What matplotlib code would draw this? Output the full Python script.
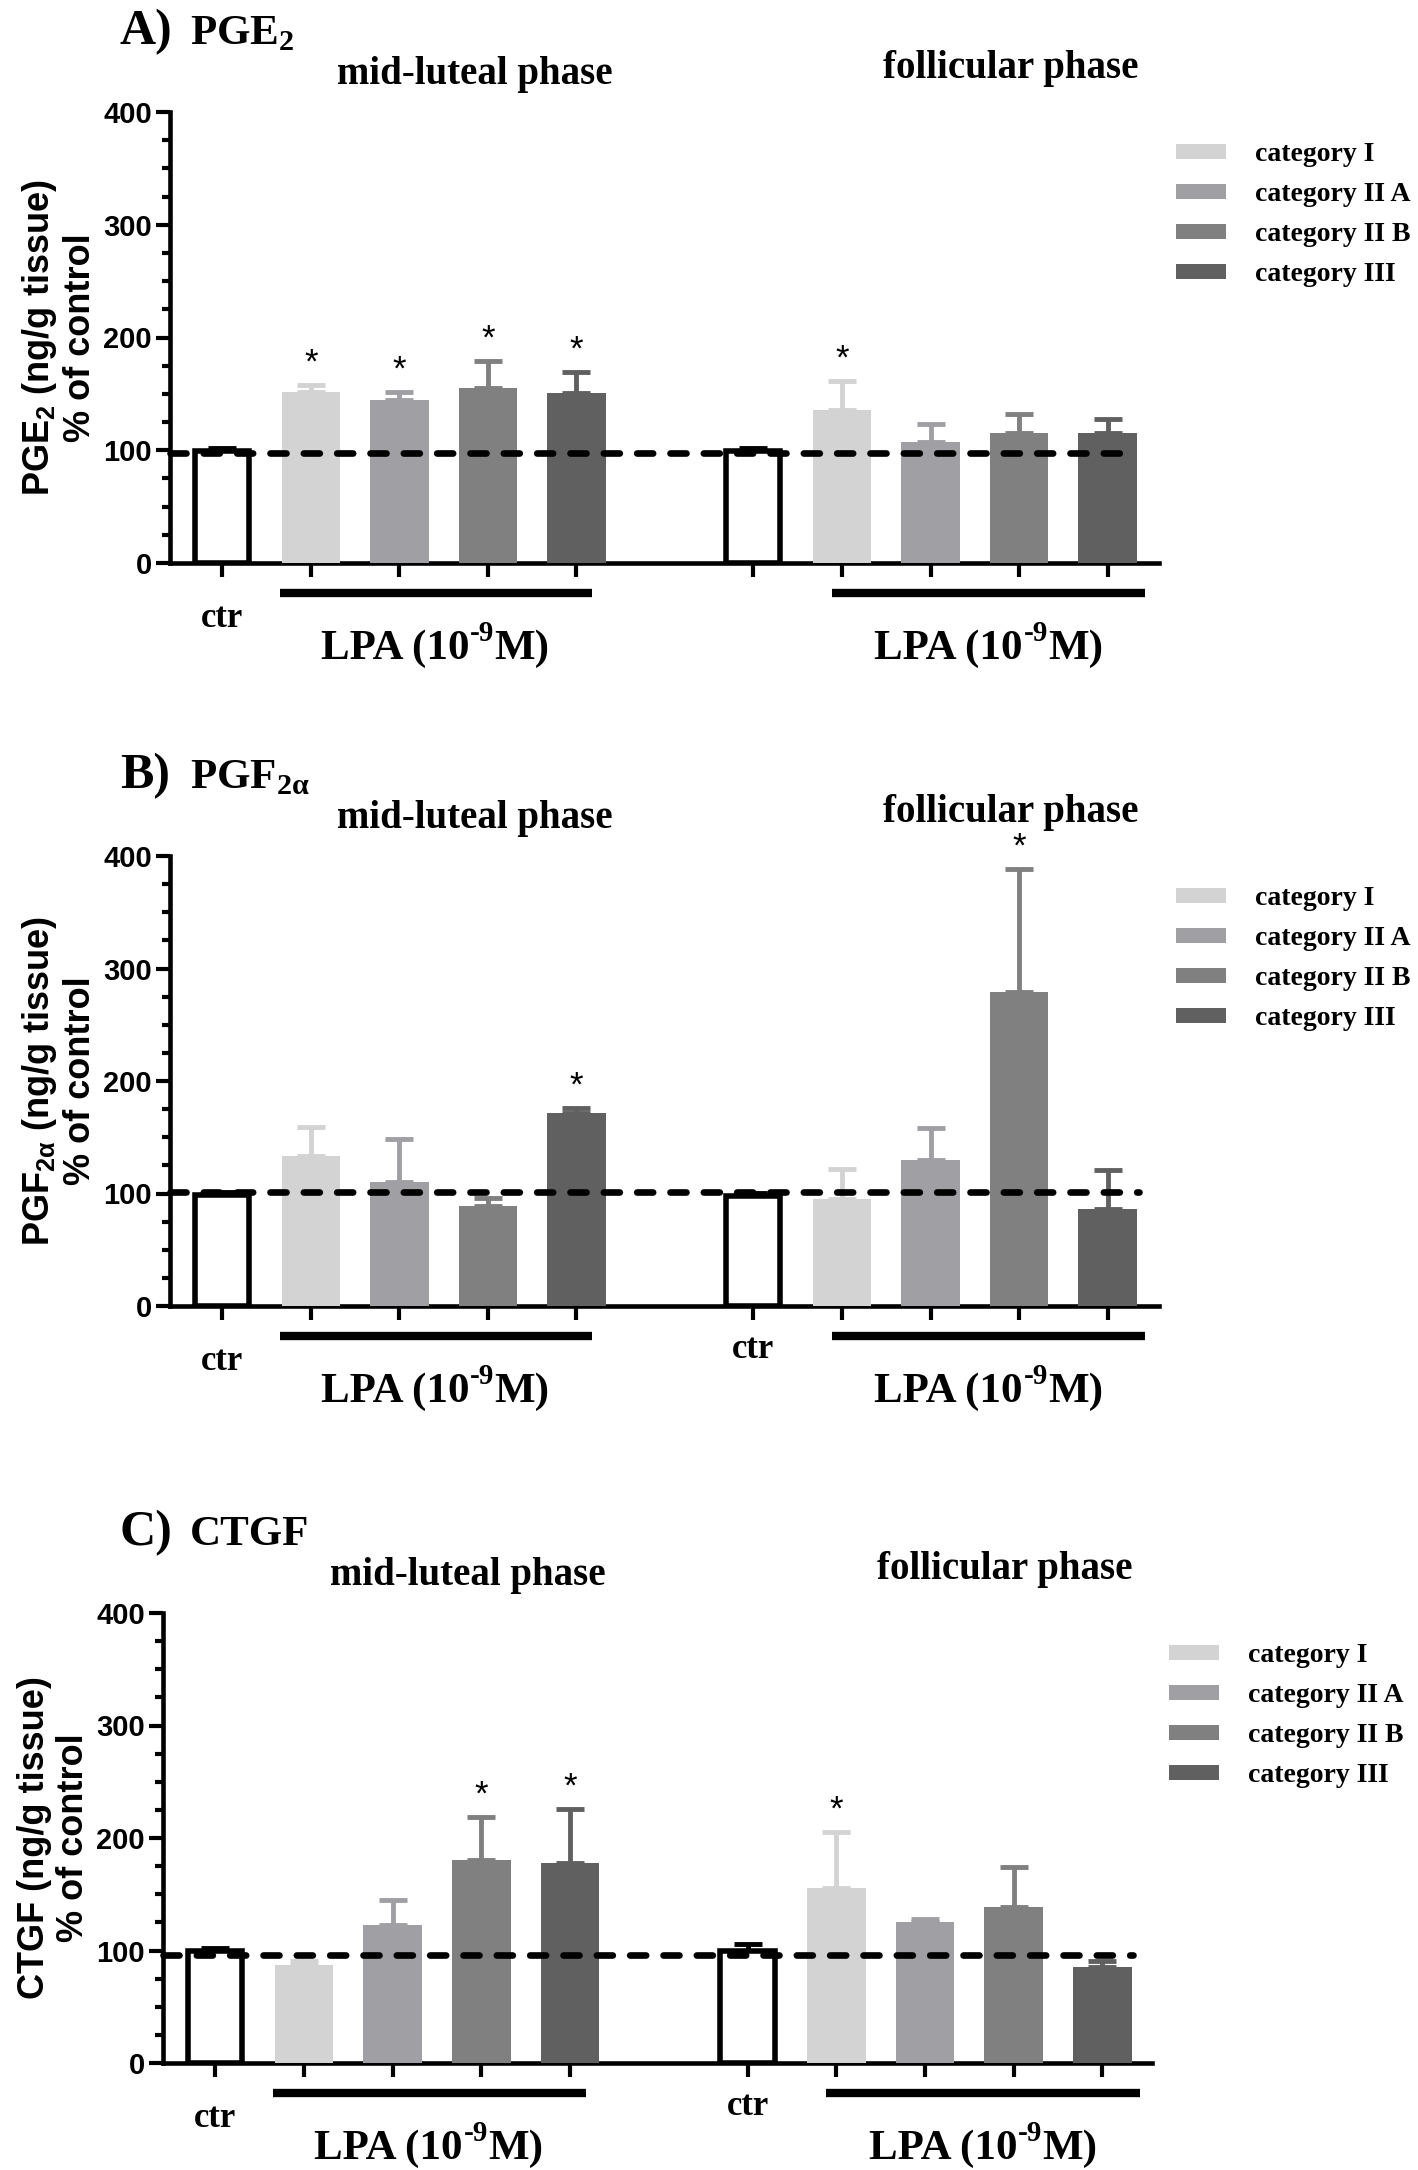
import matplotlib
matplotlib.use("Agg")
import matplotlib.pyplot as plt
from matplotlib.patches import Patch
from matplotlib.font_manager import FontProperties
from matplotlib.textpath import TextToPath
import numpy as np

# ---------------- data ----------------
categories = ["ctr", "category I", "category II A", "category II B", "category III"]
legend_labels = ["category I", "category II A", "category II B", "category III"]
phases = ["mid-luteal phase", "follicular phase"]

# Panel A: PGE2
A_mid = [99, 152, 145, 155.5, 150.5]
A_mid_err = [3, 6, 7, 23.5, 18.5]
A_fol = [99.7, 136, 107, 115, 115]
A_fol_err = [2.5, 25.5, 16.5, 17.5, 13]
A_mid_sig = [0, 1, 1, 1, 1]
A_fol_sig = [0, 1, 0, 0, 0]

# Panel B: PGF2alpha
B_mid = [98.4, 133, 110, 89, 171.6]
B_mid_err = [2.5, 26, 38.5, 7, 4.7]
B_fol = [97.6, 95.4, 130, 279, 86]
B_fol_err = [3, 26, 28, 109.5, 35]
B_mid_sig = [0, 0, 0, 0, 1]
B_fol_sig = [0, 0, 0, 1, 0]

# Panel C: CTGF
C_mid = [99.6, 87.5, 123, 180.6, 178]
C_mid_err = [2.3, 3.4, 22, 38.4, 47.5]
C_fol = [100, 156, 125, 139, 85.5]
C_fol_err = [6, 49, 3, 35, 5]
C_mid_sig = [0, 0, 0, 1, 1]
C_fol_sig = [0, 1, 0, 0, 0]

ref_levels = [98, 101, 96]
yticks = [0, 100, 200, 300, 400]

# ---------------- style ----------------
SERIF = ["Liberation Serif", "DejaVu Serif"]
SANS = ["Liberation Sans", "DejaVu Sans"]
bar_colors = ["#d3d3d3", "#a0a0a4", "#808080", "#606060"]

fig = plt.figure(figsize=(14.18, 21.70), dpi=100)
W, H = 1418.0, 2170.0
ttp = TextToPath()


def text_width(s, size):
    fp = FontProperties(family=SERIF, weight="bold", size=size)
    w, h, d = ttp.get_text_width_height_descent(s, fp, ismath=False)
    return w


def lpa_label(ax, x, y_base, size=31, sup_size=21):
    parts = ["LPA (10", "-9", "M)"]
    w1 = text_width(parts[0], size)
    w2 = text_width(parts[1], sup_size)
    w3 = text_width(parts[2], size)
    start = -(w1 + w2 + w3) / 2.0
    offs = [(start, 0, size), (start + w1 + 0.5, 0.42 * size, sup_size),
            (start + w1 + w2 + 0.5, 0, size)]
    for s, (dx, dy, fs) in zip(parts, offs):
        ax.annotate(s, xy=(x, y_base), xytext=(dx, dy), textcoords="offset points",
                    ha="left", va="baseline", fontsize=fs, fontweight="bold",
                    fontfamily=SERIF, annotation_clip=False)


def frac_axes(left_px, right_px, top_px, bottom_px):
    return fig.add_axes([left_px / W, 1 - bottom_px / H,
                         (right_px - left_px) / W, (bottom_px - top_px) / H])


panels = [
    dict(letter="A)", name="PGE$_\\mathdefault{2}$",
         ylab="PGE$_\\mathdefault{2}$ (ng/g tissue)\n% of control",
         mid=A_mid, mid_err=A_mid_err, fol=A_fol, fol_err=A_fol_err,
         mid_sig=A_mid_sig, fol_sig=A_fol_sig, ref=ref_levels[0],
         box=(170, 1159, 112, 563), fol_ctr=False, dash_end=10.15, x0=-0.59, x1=10.58),
    dict(letter="B)", name="PGF$_\\mathdefault{2α}$",
         ylab="PGF$_\\mathdefault{2α}$ (ng/g tissue)\n% of control",
         mid=B_mid, mid_err=B_mid_err, fol=B_fol, fol_err=B_fol_err,
         mid_sig=B_mid_sig, fol_sig=B_fol_sig, ref=ref_levels[1],
         box=(170, 1159, 856, 1306), fol_ctr=True, dash_end=10.35, x0=-0.59, x1=10.58),
    dict(letter="C)", name="CTGF",
         ylab="CTGF (ng/g tissue)\n% of control",
         mid=C_mid, mid_err=C_mid_err, fol=C_fol, fol_err=C_fol_err,
         mid_sig=C_mid_sig, fol_sig=C_fol_sig, ref=ref_levels[2],
         box=(163, 1152, 1613, 2063), fol_ctr=True, dash_end=10.35, x0=-0.59, x1=10.56),
]

mid_pos = np.arange(5)
fol_pos = np.arange(5) + 6
bw = 0.66

for p in panels:
    l, r, t, b = p["box"]
    ax = frac_axes(l, r, t, b)
    ax.set_xlim(p["x0"], p["x1"])
    ax.set_ylim(0, 400)
    for s in ["top", "right"]:
        ax.spines[s].set_visible(False)
    for s in ["left", "bottom"]:
        ax.spines[s].set_linewidth(3.3)
    ax.set_yticks(yticks)
    ax.set_yticks(np.arange(0, 401, 25), minor=True)
    ax.tick_params(axis="y", which="major", length=10, width=3.0, labelsize=21, pad=3)
    ax.tick_params(axis="y", which="minor", length=6, width=3.0)
    ax.set_xticks(list(mid_pos) + list(fol_pos))
    ax.set_xticklabels([])
    ax.tick_params(axis="x", which="major", length=10, width=3.0)
    for lab in ax.get_yticklabels():
        lab.set_fontfamily(SANS)
        lab.set_fontweight("bold")

    for pos, vals, errs, sig in [(mid_pos, p["mid"], p["mid_err"], p["mid_sig"]),
                                 (fol_pos, p["fol"], p["fol_err"], p["fol_sig"])]:
        # control bar (open)
        ax.bar(pos[0], vals[0], width=bw - 0.05, color="white", edgecolor="black",
               linewidth=4, zorder=3)
        ax.errorbar(pos[0], vals[0], yerr=[[0], [errs[0]]], fmt="none", ecolor="black",
                    elinewidth=3.5, capsize=10, capthick=3.5, zorder=2)
        # LPA bars
        for i in range(1, 5):
            c = bar_colors[i - 1]
            ax.bar(pos[i], vals[i], width=bw, color=c, edgecolor="none", zorder=3)
            ax.errorbar(pos[i], vals[i], yerr=[[0], [errs[i]]], fmt="none", ecolor=c,
                        elinewidth=3.5, capsize=10, capthick=3.5, zorder=2)
            if sig[i]:
                ax.text(pos[i], vals[i] + errs[i] + 11, "*", ha="center", va="baseline",
                        fontsize=25, fontfamily=SANS, zorder=5)

    # reference dashed line
    ax.plot([p["x0"], p["dash_end"]], [p["ref"], p["ref"]], color="black", lw=4.8,
            dashes=(2.4, 2.6), dash_capstyle="round", zorder=4, clip_on=False)

    ax.set_ylabel(p["ylab"], fontsize=26, fontweight="bold", fontfamily=SANS,
                  linespacing=1.15, labelpad=4)

    # LPA bars and labels below axis
    ax.plot([0.65, 4.18], [-27, -27], color="black", lw=6, solid_capstyle="butt",
            clip_on=False)
    ax.plot([6.89, 10.42], [-27, -27], color="black", lw=6, solid_capstyle="butt",
            clip_on=False)
    lpa_label(ax, 2.4, -85)
    lpa_label(ax, 8.65, -85)
    ax.text(0, -49, "ctr", ha="center", va="center", fontsize=25,
            fontweight="bold", fontfamily=SERIF, clip_on=False)
    if p["fol_ctr"]:
        ax.text(6, -39, "ctr", ha="center", va="center", fontsize=25,
                fontweight="bold", fontfamily=SERIF, clip_on=False)

    # titles
    ax.text(2.85, 433, phases[0], ha="center", va="center", fontsize=28,
            fontweight="bold", fontfamily=SERIF, clip_on=False)
    ax.text(8.9, 439, phases[1], ha="center", va="center", fontsize=28,
            fontweight="bold", fontfamily=SERIF, clip_on=False)
    fig.text(120 / W, 1 - (t - 80) / H, p["letter"], ha="left", va="center",
             fontsize=36, fontweight="bold", fontfamily=SERIF)
    fig.text(190 / W, 1 - (t - 78) / H, p["name"], ha="left", va="center",
             fontsize=31, fontweight="bold", fontfamily=SERIF)

    # legend
    handles = [Patch(facecolor=c, edgecolor="none") for c in bar_colors]
    fig.legend(handles, legend_labels, loc="upper left",
               bbox_to_anchor=((l + 1006) / W, 1 - (t + 30) / H),
               frameon=False, borderpad=0, borderaxespad=0,
               handlelength=1.8, handleheight=0.45, handletextpad=1.05,
               labelspacing=0.54,
               prop=dict(family=SERIF, weight="bold", size=20))

fig.savefig("out.png", dpi=100)
